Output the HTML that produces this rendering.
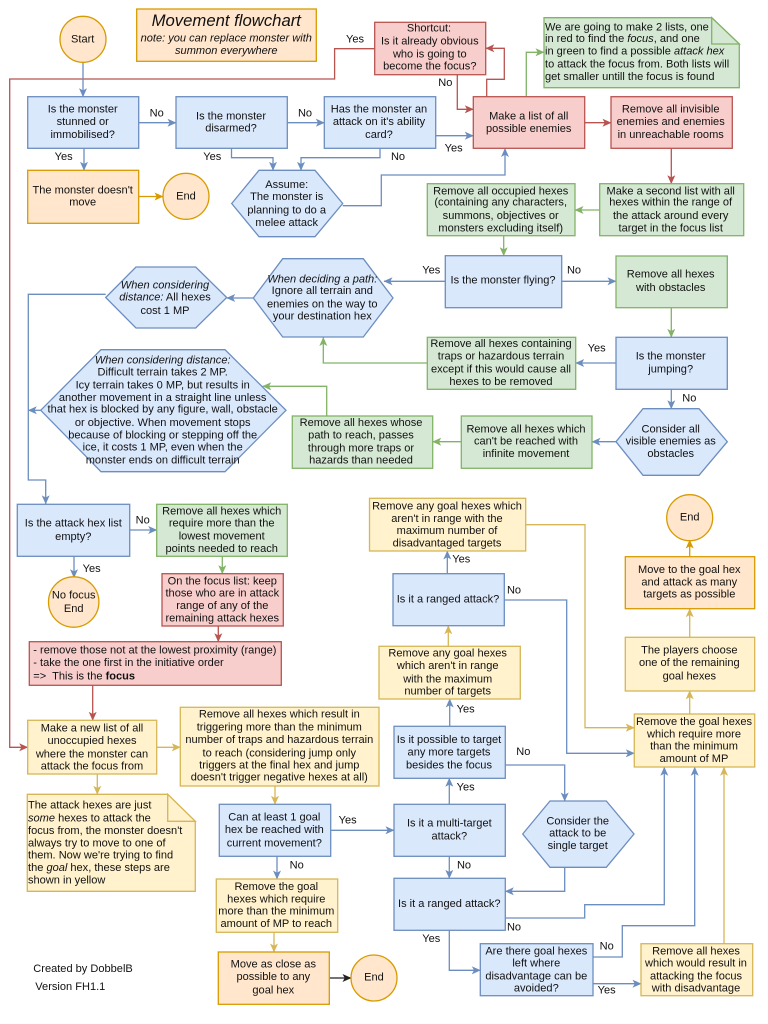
<!DOCTYPE html>
<html><head><meta charset="utf-8"><style>
html,body{margin:0;padding:0;background:#fff}
svg{display:block}
text{font-family:"Liberation Sans",sans-serif;font-size:11.05px;fill:#111;text-anchor:middle}
text.l{text-anchor:start}
.i{font-style:italic}
.b{fill:#dae8fc;stroke:#6c8ebf}.r{fill:#f8cecc;stroke:#b85450}.g{fill:#d5e8d4;stroke:#82b366}.y{fill:#fff2cc;stroke:#d6b656}.o{fill:#ffe6cc;stroke:#d79b00}
rect,polygon,circle,.n{stroke-width:1.3}
.k{fill:none;stroke-width:1.3}
.lb{stroke:#6c8ebf}.lr{stroke:#b85450}.lg{stroke:#82b366}.ly{stroke:#d6b656}.lo{stroke:#d79b00}.lk{stroke:#222}
</style></head><body>
<svg width="768" height="1024" viewBox="0 0 768 1024" xmlns="http://www.w3.org/2000/svg">
<defs>
<marker id="mb" markerUnits="userSpaceOnUse" markerWidth="9" markerHeight="9" refX="8.5" refY="4.5" orient="auto"><path d="M0,.5 L9,4.5 L0,8.5 L2.2,4.5z" fill="#6c8ebf"/></marker>
<marker id="mr" markerUnits="userSpaceOnUse" markerWidth="9" markerHeight="9" refX="8.5" refY="4.5" orient="auto"><path d="M0,.5 L9,4.5 L0,8.5 L2.2,4.5z" fill="#b85450"/></marker>
<marker id="mg" markerUnits="userSpaceOnUse" markerWidth="9" markerHeight="9" refX="8.5" refY="4.5" orient="auto"><path d="M0,.5 L9,4.5 L0,8.5 L2.2,4.5z" fill="#82b366"/></marker>
<marker id="my" markerUnits="userSpaceOnUse" markerWidth="9" markerHeight="9" refX="8.5" refY="4.5" orient="auto"><path d="M0,.5 L9,4.5 L0,8.5 L2.2,4.5z" fill="#d6b656"/></marker>
<marker id="mo" markerUnits="userSpaceOnUse" markerWidth="9" markerHeight="9" refX="8.5" refY="4.5" orient="auto"><path d="M0,.5 L9,4.5 L0,8.5 L2.2,4.5z" fill="#d79b00"/></marker>
<marker id="mk" markerUnits="userSpaceOnUse" markerWidth="9" markerHeight="9" refX="8.5" refY="4.5" orient="auto"><path d="M0,.5 L9,4.5 L0,8.5 L2.2,4.5z" fill="#222"/></marker>
</defs>

<!-- connectors -->
<g class="k" fill="none">
<path class="k lr" marker-end="url(#mr)" d="M375 48.7H334.6V79H9.7V747.3H27.7"/>
<path class="k lb" marker-end="url(#mb)" d="M83 62V96.7"/>
<path class="k lb" marker-end="url(#mb)" d="M139 122.7H176"/>
<path class="k lb" marker-end="url(#mb)" d="M287.5 122.7H324.3"/>
<path class="k lb" marker-end="url(#mb)" d="M84 148.3V170.3"/>
<path class="k lb" marker-end="url(#mb)" d="M231.5 148.3V157.7H273V170.3"/>
<path class="k lb" marker-end="url(#mb)" d="M380 148.3V157.7H301V170.3"/>
<path class="k lo" marker-end="url(#mo)" d="M139 196.5H163"/>
<path class="k lb" marker-end="url(#mb)" d="M342.7 205.7H381.3V175H505V148.5"/>
<path class="k lb" marker-end="url(#mb)" d="M436 135.7H473.3"/>
<path class="k lr" marker-end="url(#mr)" d="M457.3 74.7V109.3H473.3"/>
<path class="k lr" marker-end="url(#mr)" d="M486.7 96.7V79.3H504.3V48.3H485.8"/>
<path class="k lg" marker-end="url(#mg)" d="M526.3 96.7V52.3H544"/>
<path class="k lr" marker-end="url(#mr)" d="M584.7 122.7H611"/>
<path class="k lr" marker-end="url(#mr)" d="M671.3 148.3V183.7"/>
<path class="k lg" marker-end="url(#mg)" d="M599.7 210H575"/>
<path class="k lg" marker-end="url(#mg)" d="M503.7 235.7V255.7"/>
<path class="k lb" marker-end="url(#mb)" d="M445.3 281.3H384"/>
<path class="k lb" marker-end="url(#mb)" d="M561.7 281.3H616"/>
<path class="k lg" marker-end="url(#mg)" d="M671.3 307.7V337.3"/>
<path class="k lb" marker-end="url(#mb)" d="M616 363H575.7"/>
<path class="k lb" marker-end="url(#mb)" d="M671.3 389.3V408.7"/>
<path class="k lg" marker-end="url(#mg)" d="M427.3 363H323.3V337.5"/>
<path class="k lb" marker-end="url(#mb)" d="M616 441.7H592"/>
<path class="k lg" marker-end="url(#mg)" d="M461.3 441.7H432.7"/>
<path class="k lg" marker-end="url(#mg)" d="M326.7 416V386.3H262.7"/>
<path class="k lb" marker-end="url(#mb)" d="M253.3 298H226.7"/>
<path class="k lb" marker-end="url(#mb)" d="M105.7 294.3H28.3V480H45.7V503.8"/>
<path class="k lb" marker-end="url(#mb)" d="M40.7 410.3H28.3"/>
<path class="k lb" marker-end="url(#mb)" d="M129.7 530H156.7"/>
<path class="k lb" marker-end="url(#mb)" d="M74 556.3V577.7"/>
<path class="k lg" marker-end="url(#mg)" d="M222.3 556.3V573.7"/>
<path class="k lr" marker-end="url(#mr)" d="M218.3 626V641.7"/>
<path class="k lr" marker-end="url(#mr)" d="M92.7 685.3V720.3"/>
<path class="k ly" marker-end="url(#my)" d="M156.7 747.3H180.3"/>
<path class="k ly" marker-end="url(#my)" d="M97.3 774V794.3"/>
<path class="k ly" marker-end="url(#my)" d="M275 786V804.3"/>
<path class="k lb" marker-end="url(#mb)" d="M277 856.3V879"/>
<path class="k ly" marker-end="url(#my)" d="M274 932.3V952"/>
<path class="k lk" marker-end="url(#mk)" d="M329.5 978H351"/>
<path class="k lb" marker-end="url(#mb)" d="M330.7 830.3H394"/>
<path class="k lb" marker-end="url(#mb)" d="M449.3 804.3V778.3"/>
<path class="k lb" marker-end="url(#mb)" d="M449.3 856.3V878.3"/>
<path class="k lb" marker-end="url(#mb)" d="M505.3 765H564.7V801"/>
<path class="k lb" marker-end="url(#mb)" d="M564.7 867.3V891.3H505.3"/>
<path class="k lb" marker-end="url(#mb)" d="M505.3 918H584.7V904.7H664.3V767.3"/>
<path class="k lb" marker-end="url(#mb)" d="M449.3 930.3V970.3H480.3"/>
<path class="k lb" marker-end="url(#mb)" d="M593 957H622.3V925.7H694.7V767.3"/>
<path class="k lb" marker-end="url(#mb)" d="M593 983.7H641"/>
<path class="k ly" marker-end="url(#my)" d="M724 943.7V767.3"/>
<path class="k lb" marker-end="url(#mb)" d="M449.7 726.3V699"/>
<path class="k ly" marker-end="url(#my)" d="M448.3 646.3V625.7"/>
<path class="k lb" marker-end="url(#mb)" d="M447.3 573.7V551"/>
<path class="k lb" marker-end="url(#mb)" d="M504.3 600H566.7V753.3H634.3"/>
<path class="k ly" marker-end="url(#my)" d="M525.7 524.7H585V727.7H634.3"/>
<path class="k ly" marker-end="url(#my)" d="M689.7 714V690.8"/>
<path class="k ly" marker-end="url(#my)" d="M689.7 637.3V608.7"/>
<path class="k lo" marker-end="url(#mo)" d="M689.7 556.7V540"/>
</g>

<!-- shapes -->
<circle class="o" cx="83" cy="39.3" r="23"/>
<rect class="o" x="136.7" y="9" width="179.6" height="52.3"/>
<rect class="b" x="27.7" y="96.7" width="111" height="51.6"/>
<rect class="b" x="176" y="96.7" width="111.3" height="51.6"/>
<rect class="b" x="324.3" y="96.7" width="111.4" height="51.6"/>
<rect class="o" x="27.7" y="170.3" width="111" height="53"/>
<circle class="o" cx="186" cy="196.3" r="23"/>
<polygon class="b" points="231.7,203.5 259,170.3 315,170.3 342.7,203.5 315,236.7 259,236.7"/>
<rect class="r" x="374.7" y="22.3" width="111" height="52.4"/>
<rect class="r" x="473.3" y="96.7" width="111.4" height="51.6"/>
<path class="g n" d="M544 17.7H711.7L739.3 44V87.7H544Z"/>
<path class="g n" d="M711.7 17.7V44H739.3Z"/>
<rect class="r" x="611" y="96.7" width="121.3" height="51.6"/>
<rect class="g" x="599.7" y="183.7" width="144" height="52"/>
<rect class="g" x="427.3" y="183.7" width="147.7" height="52"/>
<rect class="b" x="445.3" y="255.7" width="116.4" height="52"/>
<rect class="g" x="616" y="256" width="111.3" height="51.7"/>
<rect class="b" x="616" y="337.3" width="111.3" height="52"/>
<rect class="g" x="427.3" y="337.3" width="148.4" height="52"/>
<polygon class="b" points="616,441.7 643,408.7 699,408.7 727.3,441.7 699,475.3 643,475.3"/>
<rect class="g" x="461.3" y="416" width="130.7" height="52.3"/>
<rect class="g" x="292.3" y="416" width="140.4" height="52.3"/>
<polygon class="b" points="253.3,298 282.7,258.7 363.3,258.7 393,298 363.3,337 282.7,337"/>
<polygon class="b" points="105.7,297.5 136,267 195.7,267 226.7,297.5 195.7,328 136,328"/>
<polygon class="b" points="40.7,410.3 101,349.7 225,349.7 286,410.3 225,471.7 101,471.7"/>
<rect class="b" x="17.3" y="504.3" width="112.4" height="52"/>
<rect class="g" x="156.7" y="504.3" width="130.6" height="52"/>
<circle class="o" cx="73.7" cy="602" r="25.2"/>
<rect class="r" x="162" y="573.7" width="121.3" height="52.3"/>
<rect class="r" x="29.3" y="641.7" width="252" height="43.6"/>
<rect class="y" x="27.7" y="720.3" width="129" height="53.7"/>
<rect class="y" x="180.3" y="707.3" width="198.7" height="78.7"/>
<path class="y n" d="M27.3 794.3H167.7L195.3 821.3V891.3H27.3Z"/>
<path class="y n" d="M167.7 794.3V821.3H195.3Z"/>
<rect class="b" x="219.3" y="804.3" width="111.4" height="52"/>
<rect class="y" x="216.3" y="879" width="121.4" height="53.3"/>
<rect class="o" x="218.3" y="952" width="111" height="52.3"/>
<circle class="o" cx="374" cy="978" r="23"/>
<rect class="b" x="394" y="804.3" width="111.3" height="52"/>
<rect class="b" x="394" y="878.3" width="111.3" height="52"/>
<rect class="b" x="394" y="726.3" width="111.3" height="52"/>
<polygon class="b" points="522.7,834 550,801 606.3,801 634,834 606.3,867.3 550,867.3"/>
<rect class="b" x="480.3" y="943.7" width="112.7" height="52"/>
<rect class="y" x="641" y="943.7" width="111.7" height="52"/>
<rect class="y" x="634.3" y="714" width="120.4" height="53"/>
<rect class="y" x="625.3" y="637.3" width="129.4" height="53.7"/>
<rect class="o" x="625.3" y="556.7" width="129.4" height="52"/>
<circle class="o" cx="689.7" cy="517.7" r="23"/>
<rect class="y" x="379" y="646.3" width="141.3" height="52.7"/>
<rect class="b" x="393" y="573.7" width="111.3" height="52"/>
<rect class="y" x="369.5" y="498.3" width="156.2" height="52.7"/>

<!-- text -->
<text x="82.7" y="42.7">Start</text>
<text class="i" x="226.3" y="26" style="font-size:16.7px">Movement flowchart</text>
<text class="i" x="226.3" y="41.7">note: you can replace monster with</text>
<text class="i" x="226.3" y="54">summon everywhere</text>

<text x="82.7" y="112.7">Is the monster</text><text x="82.7" y="125">stunned or</text><text x="82.7" y="138">immobilised?</text>
<text x="231" y="119.3">Is the monster</text><text x="231" y="131.7">disarmed?</text>
<text x="379" y="112.7">Has the monster an</text><text x="379" y="125">attack on it's ability</text><text x="379" y="138">card?</text>
<text x="82.7" y="193.7">The monster doesn't</text><text x="82.7" y="205.7">move</text>
<text x="186" y="199.5">End</text>
<text x="286.7" y="188">Assume:</text><text x="286.7" y="200">The monster is</text><text x="286.7" y="213.3">planning to do a</text><text x="286.7" y="226">melee attack</text>
<text x="429" y="31.7">Shortcut:</text><text x="429.8" y="44.3">Is it already obvious</text><text x="429.8" y="57.3">who is going to</text><text x="429.8" y="69.7">become the focus?</text>
<text x="528.7" y="119.3">Make a list of all</text><text x="528.7" y="132">possible enemies</text>
<text class="l" x="545" y="30.7">We are going to make 2 lists, one</text>
<text class="l" x="545" y="42">in red to find the <tspan class="i">focus</tspan>, and one</text>
<text class="l" x="545" y="54.7">in green to find a possible <tspan class="i">attack hex</tspan></text>
<text class="l" x="545" y="67.7">to attack the focus from. Both lists will</text>
<text class="l" x="545" y="80">get smaller untill the focus is found</text>
<text x="670.7" y="112.7">Remove all invisible</text><text x="670.7" y="125">enemies and enemies</text><text x="670.7" y="138">in unreachable rooms</text>
<text x="670.7" y="194.3">Make a second list with all</text><text x="670.7" y="205.7">hexes within the range of</text><text x="670.7" y="219">the attack around every</text><text x="670.7" y="231.3">target in the focus list</text>
<text x="500.7" y="194.3">Remove all occupied hexes</text><text x="500.7" y="205.7">(containing any characters,</text><text x="500.7" y="219">summons, objectives or</text><text x="500.7" y="231.3">monsters excluding itself)</text>
<text x="503" y="283.3">Is the monster flying?</text>
<text x="670.7" y="277.7">Remove all hexes</text><text x="670.7" y="291">with obstacles</text>
<text x="670.7" y="359.3">Is the monster</text><text x="670.7" y="372.7">jumping?</text>
<text x="501" y="347">Remove all hexes containing</text><text x="501" y="359.7">traps or hazardous terrain</text><text x="501" y="372.7">except if this would cause all</text><text x="501" y="385">hexes to be removed</text>
<text x="526" y="432.7">Remove all hexes which</text><text x="526" y="444.7">can't be reached with</text><text x="526" y="457">infinite movement</text>
<text x="670.7" y="432.7">Consider all</text><text x="670.7" y="444.7">visible enemies as</text><text x="670.7" y="457">obstacles</text>
<text x="361" y="426">Remove all hexes whose</text><text x="361" y="438.3">path to reach, passes</text><text x="361" y="451.7">through more traps or</text><text x="361" y="463.7">hazards than needed</text>
<text class="i" x="322.3" y="282.7">When deciding a path:</text><text x="322.3" y="294">Ignore all terrain and</text><text x="322.3" y="307.3">enemies on the way to</text><text x="322.3" y="319.7">your destination hex</text>
<text class="i" x="165" y="288.3">When considering</text><text x="165" y="300.7"><tspan class="i">distance:</tspan> All hexes</text><text x="165" y="314">cost 1 MP</text>
<text class="i" x="162.7" y="363.3">When considering distance:</text>
<text x="162.7" y="375.7">Difficult terrain takes 2 MP.</text>
<text x="162.7" y="388.7">Icy terrain takes 0 MP, but results in</text>
<text x="162.7" y="401">another movement in a straight line unless</text>
<text x="162.7" y="412.7">that hex is blocked by any figure, wall, obstacle</text>
<text x="162.7" y="426">or objective. When movement stops</text>
<text x="162.7" y="438.3">because of blocking or stepping off the</text>
<text x="162.7" y="450.7">ice, it costs 1 MP, even when the</text>
<text x="162.7" y="463.3">monster ends on difficult terrain</text>
<text x="73.3" y="526.3">Is the attack hex list</text><text x="73.3" y="540">empty?</text>
<text x="221.7" y="514.3">Remove all hexes which</text><text x="221.7" y="526.7">require more than the</text><text x="221.7" y="539.7">lowest movement</text><text x="221.7" y="552">points needed to reach</text>
<text x="73.7" y="598.7">No focus</text><text x="73.7" y="612">End</text>
<text x="222.3" y="584.7">On the focus list: keep</text><text x="222.3" y="596.7">those who are in attack</text><text x="222.3" y="609">range of any of the</text><text x="222.3" y="621.7">remaining attack hexes</text>
<text class="l" x="33.3" y="653.7">- remove those not at the lowest proximity (range)</text>
<text class="l" x="33.3" y="666">- take the one first in the initiative order</text>
<text class="l" x="33.3" y="679.3">=&gt;&#160; This is the <tspan font-weight="bold">focus</tspan></text>
<text x="92" y="731.7">Make a new list of all</text><text x="92" y="744">unoccupied hexes</text><text x="92" y="757.3">where the monster can</text><text x="92" y="769.3">attack the focus from</text>
<text x="279.3" y="717.3">Remove all hexes which result in</text><text x="279.3" y="730.7">triggering more than the minimum</text><text x="279.3" y="743">number of traps and hazardous terrain</text><text x="279.3" y="756.3">to reach (considering jump only</text><text x="279.3" y="768.3">triggers at the final hex and jump</text><text x="279.3" y="780.7">doesn't trigger negative hexes at all)</text>
<text class="l" x="28" y="808.3">The attack hexes are just</text>
<text class="l" x="28" y="821.7"><tspan class="i">some</tspan> hexes to attack the</text>
<text class="l" x="28" y="834">focus from, the monster doesn't</text>
<text class="l" x="28" y="846.3">always try to move to one of</text>
<text class="l" x="28" y="858.7">them. Now we're trying to find</text>
<text class="l" x="28" y="871">the <tspan class="i">goal</tspan> hex, these steps are</text>
<text class="l" x="28" y="883.3">shown in yellow</text>
<text x="274.3" y="820.7">Can at least 1 goal</text><text x="274.3" y="833">hex be reached with</text><text x="274.3" y="846.3">current movement?</text>
<text x="276.3" y="890">Remove the goal</text><text x="276.3" y="902.3">hexes which require</text><text x="276.3" y="914.7">more than the minimum</text><text x="276.3" y="927">amount of MP to reach</text>
<text x="273.3" y="967.7">Move as close as</text><text x="273.3" y="980">possible to any</text><text x="273.3" y="993.3">goal hex</text>
<text x="374" y="980.5">End</text>
<text x="449.3" y="826.7">Is it a multi-target</text><text x="449.3" y="839.3">attack?</text>
<text x="577.7" y="824.3">Consider the</text><text x="577.7" y="836.7">attack to be</text><text x="577.7" y="849">single target</text>
<text x="449.3" y="907">Is it a ranged attack?</text>
<text x="536.3" y="954.7">Are there goal hexes</text><text x="536.3" y="966.7">left where</text><text x="536.3" y="979.3">disadvantage can be</text><text x="536.3" y="991.7">avoided?</text>
<text x="696" y="954.7">Remove all hexes</text><text x="696" y="966.7">which would result in</text><text x="696" y="979.3">attacking the focus</text><text x="696" y="991.7">with disadvantage</text>
<text x="449" y="743">Is it possible to target</text><text x="449" y="755.3">any more targets</text><text x="449" y="768.3">besides the focus</text>
<text x="447.7" y="656.7">Remove any goal hexes</text><text x="447.7" y="669">which aren't in range</text><text x="447.7" y="682.3">with the maximum</text><text x="447.7" y="694.7">number of targets</text>
<text x="448" y="602.7">Is it a ranged attack?</text>
<text x="447" y="509.7">Remove any goal hexes which</text><text x="447" y="522">aren't in range with the</text><text x="447" y="534">maximum number of</text><text x="447" y="546.7">disadvantaged targets</text>
<text x="694" y="725">Remove the goal hexes</text><text x="694" y="737.3">which require more</text><text x="694" y="749.7">than the minimum</text><text x="694" y="762">amount of MP</text>
<text x="689.3" y="653.7">The players choose</text><text x="689.3" y="666">one of the remaining</text><text x="689.3" y="679.3">goal hexes</text>
<text x="689.3" y="573">Move to the goal hex</text><text x="689.3" y="585.3">and attack as many</text><text x="689.3" y="597.7">targets as possible</text>
<text x="689.7" y="520.7">End</text>
<text class="l" x="33.3" y="972">Created by DobbelB</text>
<text class="l" x="35.3" y="990">Version FH1.1</text>

<!-- labels -->
<text x="355" y="42.7">Yes</text>
<text x="156.7" y="116.7">No</text>
<text x="305" y="116.7">No</text>
<text x="63.7" y="160">Yes</text>
<text x="212.3" y="160">Yes</text>
<text x="445.3" y="86">No</text>
<text x="453.7" y="151.7">Yes</text>
<text x="398" y="160">No</text>
<text x="431.3" y="273.7">Yes</text>
<text x="574" y="273.7">No</text>
<text x="596.7" y="351.7">Yes</text>
<text x="689.3" y="401.3">No</text>
<text x="142.7" y="523.7">No</text>
<text x="91.7" y="572">Yes</text>
<text x="347.7" y="823.7">Yes</text>
<text x="296.7" y="868.3">No</text>
<text x="465.7" y="790.3">Yes</text>
<text x="464" y="868.3">No</text>
<text x="514" y="930.7">No</text>
<text x="431.3" y="942">Yes</text>
<text x="606.7" y="949.7">No</text>
<text x="606.7" y="993.3">Yes</text>
<text x="461.3" y="562.7">Yes</text>
<text x="514" y="593.7">No</text>
<text x="465.7" y="712.3">Yes</text>
<text x="523.3" y="755">No</text>
</svg>
</body></html>
